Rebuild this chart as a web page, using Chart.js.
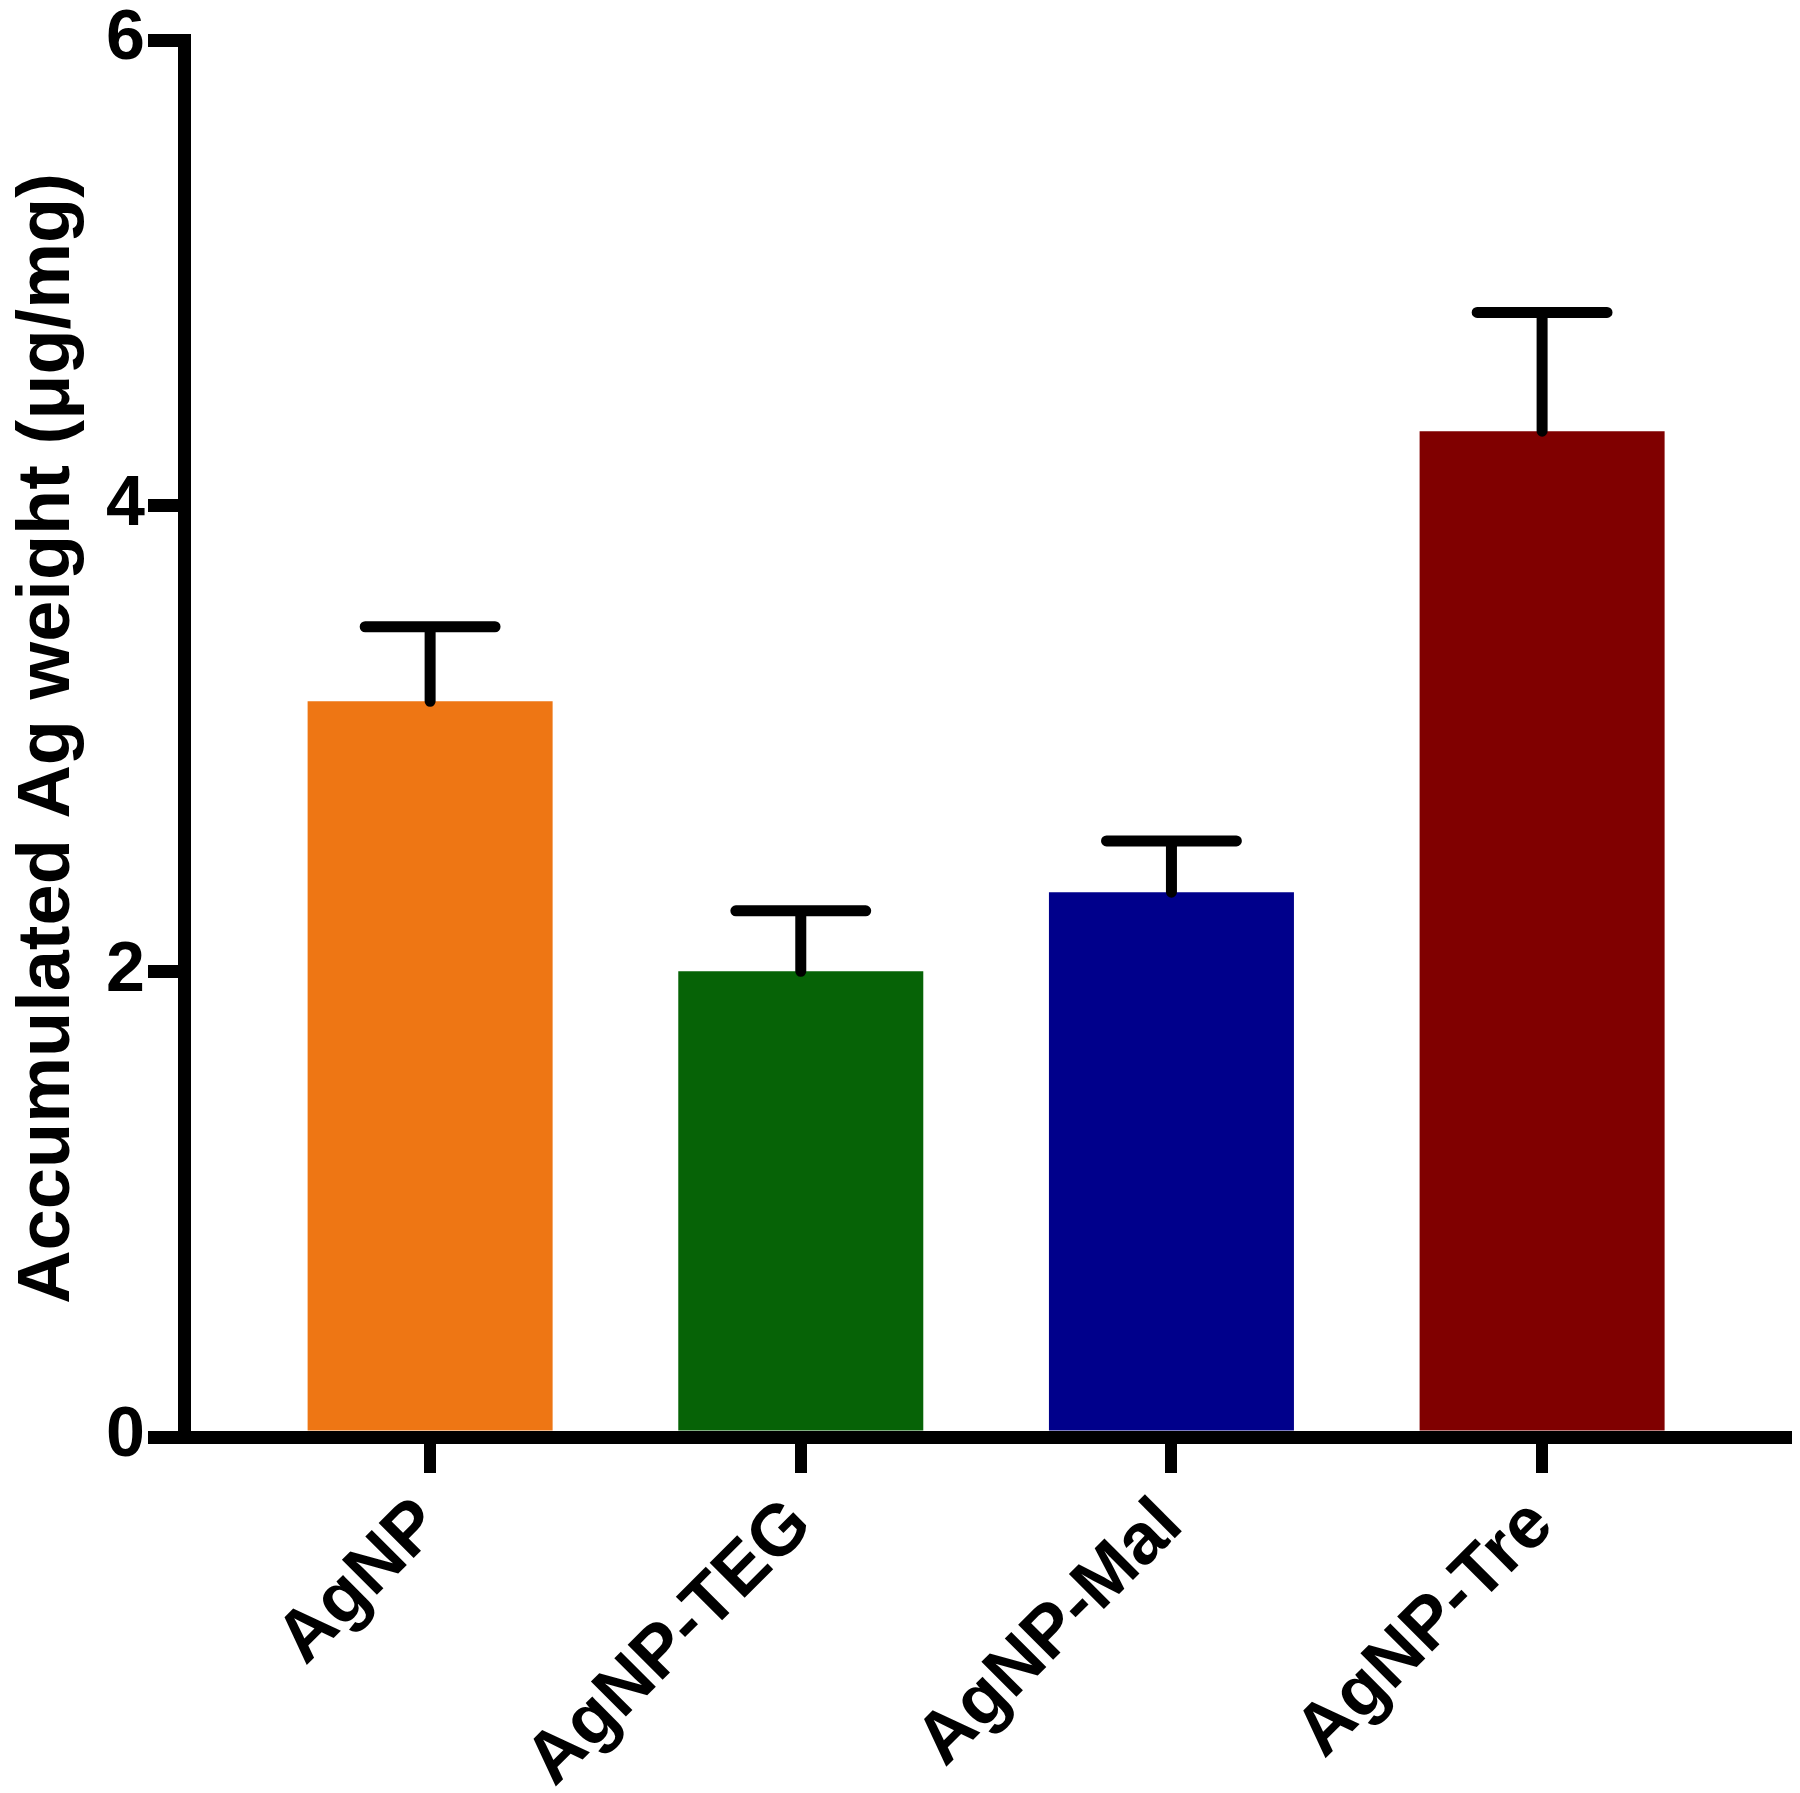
<!DOCTYPE html>
<html>

<head>
  <title>Accumulated Ag weight</title>
  <script src="https://cdn.jsdelivr.net/npm/chart.js"></script>
  <style>
    body { margin: 0; background: #fff; }
    #wrap { width: 1800px; height: 1793px; position: relative; }
  </style>
</head>

<body>
  <div id="wrap"><canvas id="agChart"></canvas></div>
  <script>
    // values
    const categories = ['AgNP', 'AgNP-TEG', 'AgNP-Mal', 'AgNP-Tre'];
    const means = [3.16, 2.00, 2.34, 4.32];
    const errors = [0.32, 0.26, 0.22, 0.51];
    const barColors = ['#EE7614', '#066306', '#00008B', '#800000'];
    const yTicks = [0, 2, 4, 6];

    const FONT = "'Liberation Sans', Arial, sans-serif";

    // draws the upper error bar (T) on top of each bar
    const errorBars = {
      id: 'errorBars',
      afterDatasetsDraw(chart) {
        const ctx = chart.ctx;
        const meta = chart.getDatasetMeta(0);
        const y = chart.scales.y;
        ctx.save();
        ctx.strokeStyle = '#000';
        ctx.lineWidth = 11;
        ctx.lineCap = 'round';
        meta.data.forEach((bar, i) => {
          const top = y.getPixelForValue(means[i] + errors[i]);
          const half = bar.width * 0.265;
          ctx.beginPath();
          ctx.moveTo(bar.x, bar.y);
          ctx.lineTo(bar.x, top);
          ctx.moveTo(bar.x - half, top);
          ctx.lineTo(bar.x + half, top);
          ctx.stroke();
        });
        ctx.restore();
      }
    };

    const ctx = document.getElementById('agChart').getContext('2d');
    const chart = new Chart(ctx, {
      type: 'bar',
      data: {
        datasets: [{
          data: categories.map((c, i) => ({ x: i, y: means[i] })),
          backgroundColor: barColors,
          borderWidth: 0,
          categoryPercentage: 1,
          barPercentage: 0.661
        }]
      },
      options: {
        responsive: true,
        maintainAspectRatio: false,
        animation: false,
        layout: { padding: { top: 40, right: 14, left: 0, bottom: 0 } },
        plugins: { legend: { display: false }, tooltip: { enabled: false } },
        scales: {
          x: {
            type: 'linear',
            min: -0.664,
            max: 3.658,
            offset: false,
            afterBuildTicks: s => { s.ticks = categories.map((c, i) => ({ value: i })); },
            afterFit: s => { s.height = 356; },
            border: { display: true, color: '#000', width: 13 },
            grid: {
              offset: false,
              drawOnChartArea: false,
              drawTicks: true,
              tickLength: 36,
              color: '#000',
              lineWidth: 12
            },
            ticks: {
              autoSkip: false,
              minRotation: 45,
              maxRotation: 45,
              padding: 10,
              color: '#000',
              font: { family: FONT, size: 72, weight: 'bold' },
              callback: v => categories[v]
            }
          },
          y: {
            min: 0,
            max: 6,
            afterBuildTicks: s => { s.ticks = yTicks.map(v => ({ value: v })); },
            afterFit: s => { s.width = 184; },
            border: { display: true, color: '#000', width: 13 },
            grid: {
              drawOnChartArea: false,
              drawTicks: true,
              tickLength: 36,
              color: '#000',
              lineWidth: 13
            },
            ticks: {
              padding: 3,
              color: '#000',
              font: { family: FONT, size: 70, weight: 'bold', lineHeight: 1 }
            },
            title: {
              display: true,
              text: 'Accumulated Ag weight (\u03bcg/mg)',
              color: '#000',
              padding: { top: 4, bottom: 0 },
              font: { family: FONT, size: 74, weight: 'bold' }
            }
          }
        }
      },
      plugins: [errorBars]
    });
  </script>
</body>

</html>
